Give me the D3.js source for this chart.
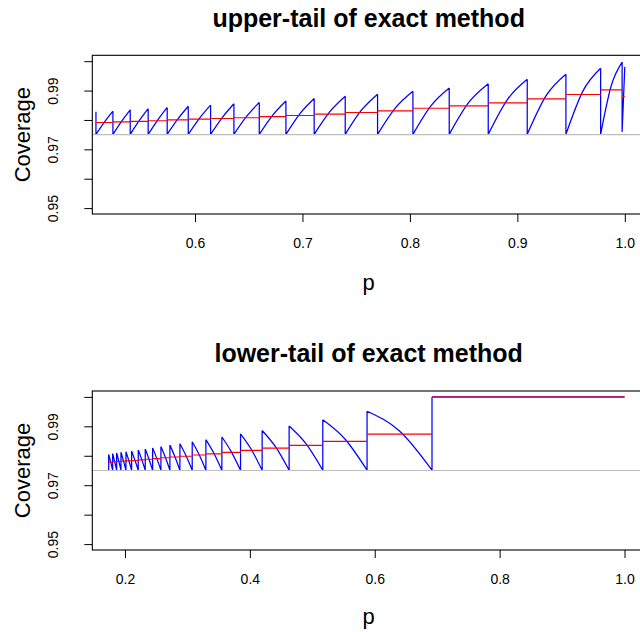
<!DOCTYPE html>
<html><head><meta charset="utf-8">
<script src="https://cdn.jsdelivr.net/npm/d3@7"></script>
<style>
body{margin:0;background:#fff}
svg{display:block}
text{font-family:"Liberation Sans",Arial,Helvetica,sans-serif;fill:#000}
</style>
</head><body>
<svg id="chart" width="640" height="632"></svg>
<script>
// ---------- DATA ----------
// Upper panel: segment boundaries (jump positions) in p
const upperJumps = [0.5078, 0.5236, 0.5397, 0.5564, 0.5741, 0.5937, 0.6145, 0.6362, 0.6598, 0.6846, 0.7109, 0.7398, 0.7699, 0.8028, 0.8366, 0.8729, 0.9092, 0.9452, 0.9775, 0.9975, 1.0];
const upperStartValue = 0.98276;
const upperLow  = [0.9751, 0.9751, 0.9751, 0.9751, 0.9751, 0.9751, 0.9751, 0.9751, 0.9751, 0.9751, 0.9751, 0.9751, 0.9751, 0.9751, 0.9751, 0.9751, 0.9751, 0.9751, 0.9751, 0.97595];
const upperMid  = [0.97928, 0.97953, 0.97974, 0.97995, 0.98027, 0.98057, 0.98082, 0.98119, 0.98157, 0.98218, 0.98274, 0.98331, 0.98404, 0.98490, 0.98597, 0.98710, 0.98851, 0.99006, 0.99181, 0.98700];
const upperPeak = [0.98299, 0.98345, 0.98385, 0.98425, 0.98467, 0.98505, 0.98550, 0.98598, 0.98645, 0.98730, 0.98805, 0.98878, 0.98975, 0.99090, 0.99235, 0.99385, 0.99558, 0.99760, 0.99968, 0.99806];
const upperMean = [0.97915, 0.97936, 0.97952, 0.97972, 0.98003, 0.98027, 0.98050, 0.98075, 0.98112, 0.98152, 0.98197, 0.98254, 0.98310, 0.98396, 0.98480, 0.98582, 0.98718, 0.98867, 0.99024, 0.98799];

// Lower panel
const lowerJumps = [0.1739, 0.1803, 0.1867, 0.1936, 0.2016, 0.2107, 0.2213, 0.2325, 0.2443, 0.2576, 0.2720, 0.2880, 0.3077, 0.3296, 0.3552, 0.3851, 0.4197, 0.4629, 0.5168, 0.5877, 0.6917];
const lowerTop  = [0.98047, 0.98075, 0.98098, 0.98120, 0.98140, 0.98162, 0.98193, 0.98227, 0.98268, 0.98315, 0.98362, 0.98412, 0.98475, 0.98548, 0.98638, 0.98745, 0.98860, 0.99010, 0.99220, 0.99512];
const lowerMid  = [0.97789, 0.97804, 0.97816, 0.97827, 0.97838, 0.97849, 0.97869, 0.97890, 0.97912, 0.97941, 0.97970, 0.98002, 0.98041, 0.98086, 0.98142, 0.98214, 0.98300, 0.98410, 0.98570, 0.98841];
const lowerLow  = 0.9751;
const lowerMean = [0.97775, 0.97793, 0.97806, 0.97818, 0.97828, 0.97838, 0.97860, 0.97880, 0.97905, 0.97932, 0.97958, 0.97985, 0.98024, 0.98063, 0.98116, 0.98182, 0.98261, 0.98353, 0.98488, 0.98736];
const lowerPlateau = {from: 0.6917, to: 1.0, value: 1.0};

const refLevel = 0.975;
const yTicks = [0.95, 0.96, 0.97, 0.98, 0.99, 1.00];
const yTickLabels = ["0.95", "", "0.97", "", "0.99", ""];
const upperXTicks = [0.6, 0.7, 0.8, 0.9, 1.0];
const upperXTickLabels = ["0.6", "0.7", "0.8", "0.9", "1.0"];
const lowerXTicks = [0.2, 0.4, 0.6, 0.8, 1.0];
const lowerXTickLabels = ["0.2", "0.4", "0.6", "0.8", "1.0"];
const titles = ["upper-tail of exact method", "lower-tail of exact method"];
const xLabel = "p";
const yLabel = "Coverage";

// ---------- LAYOUT ----------
const svg = d3.select("#chart");
const L = 92.3, R = 645;

function drawPanel(o) {
  const x = d3.scaleLinear().domain(o.xDomain).range([L, R]);
  const y = d3.scaleLinear().domain([0.948, 1.002]).range([o.bottom, o.top]);
  const g = svg.append("g");
  const clipId = "clip" + o.id;
  svg.append("clipPath").attr("id", clipId).append("rect")
    .attr("x", L).attr("y", o.top).attr("width", R - L).attr("height", o.bottom - o.top);
  const plot = g.append("g").attr("clip-path", `url(#${clipId})`);

  const curve = d3.line().x(d => x(d[0])).y(d => y(d[1])).curve(d3.curveMonotoneX);
  const straight = d3.line().x(d => x(d[0])).y(d => y(d[1]));

  // blue coverage curve
  let dStr = "";
  o.pieces.forEach(pc => { dStr += (pc.type === "c" ? curve(pc.pts) : straight(pc.pts)); });
  plot.append("path").attr("d", dStr).attr("fill", "none")
    .attr("stroke", "#0000ff").attr("stroke-width", 1.25).attr("stroke-linejoin", "round");

  // red step means
  o.reds.forEach(s => {
    plot.append("line")
      .attr("x1", x(s[0])).attr("x2", x(s[1]))
      .attr("y1", y(s[2])).attr("y2", y(s[2]))
      .attr("stroke", s[3] || "#ff0000").attr("stroke-width", s[3] ? 1.6 : 1.1);
  });

  // reference line
  plot.append("line").attr("x1", L).attr("x2", R)
    .attr("y1", y(refLevel)).attr("y2", y(refLevel))
    .attr("stroke", "#bebebe").attr("stroke-width", 1.2);

  // box
  g.append("rect").attr("x", L).attr("y", o.top).attr("width", R - L).attr("height", o.bottom - o.top)
    .attr("fill", "none").attr("stroke", "#000").attr("stroke-width", 1.1);

  // x axis
  const xa = g.append("g").attr("transform", `translate(0,${o.bottom})`)
    .call(d3.axisBottom(x).tickValues(o.xTicks).tickSize(8).tickSizeOuter(0)
      .tickFormat((d, i) => o.xTickLabels[i]));
  xa.select(".domain").remove();
  xa.selectAll("line").attr("stroke", "#000");
  xa.selectAll("text").attr("font-size", 14).attr("y", 29).attr("dy", "0.35em").attr("fill", "#000")
    .style("font-family", '"Liberation Sans",Arial,sans-serif');

  // y axis
  const ya = g.append("g").attr("transform", `translate(${L},0)`)
    .call(d3.axisLeft(y).tickValues(yTicks).tickSize(8).tickSizeOuter(0)
      .tickFormat((d, i) => yTickLabels[i]));
  ya.select(".domain").remove();
  ya.selectAll("line").attr("stroke", "#000");
  ya.selectAll("text").attr("font-size", 14).attr("x", 0).attr("y", 0).attr("dy", "0.35em")
    .attr("text-anchor", "middle").attr("transform", "translate(-39,0) rotate(-90)")
    .attr("fill", "#000").style("font-family", '"Liberation Sans",Arial,sans-serif');

  // labels
  const cx = (L + R) / 2;
  svg.append("text").attr("x", cx).attr("y", o.titleY).attr("dy", "0.35em")
    .attr("text-anchor", "middle").attr("font-size", 25).attr("font-weight", "bold").text(o.title);
  svg.append("text").attr("x", cx).attr("y", o.xLabY).attr("dy", "0.35em")
    .attr("text-anchor", "middle").attr("font-size", 22).text(xLabel);
  svg.append("text").attr("transform", `translate(22,${(o.top + o.bottom) / 2}) rotate(-90)`)
    .attr("dy", "0.35em").attr("text-anchor", "middle").attr("font-size", 22).text(yLabel);
}

// ---------- build upper pieces ----------
const upPieces = [{type: "s", pts: [[upperJumps[0], upperStartValue], [upperJumps[0], upperLow[0]]]}];
upperPeak.forEach((pk, i) => {
  const a = upperJumps[i], b = upperJumps[i + 1];
  upPieces.push({type: "c", pts: [[a, upperLow[i]], [(a + b) / 2, upperMid[i]], [b, pk]]});
  if (i < upperPeak.length - 1)
    upPieces.push({type: "s", pts: [[b, pk], [b, upperLow[i + 1]]]});
});
const upReds = upperMean.map((m, i) => [upperJumps[i], upperJumps[i + 1], m]);

// ---------- build lower pieces ----------
const loPieces = [{type: "s", pts: [[lowerJumps[0], lowerLow], [lowerJumps[0], lowerTop[0]]]}];
lowerTop.forEach((t, i) => {
  const a = lowerJumps[i], b = lowerJumps[i + 1];
  loPieces.push({type: "c", pts: [[a, t], [(a + b) / 2, lowerMid[i]], [b, lowerLow]]});
  const next = i < lowerTop.length - 1 ? lowerTop[i + 1] : lowerPlateau.value;
  loPieces.push({type: "s", pts: [[b, lowerLow], [b, next]]});
});
loPieces.push({type: "s", pts: [[lowerPlateau.from, lowerPlateau.value], [lowerPlateau.to, lowerPlateau.value]]});
const loReds = lowerMean.map((m, i) => [lowerJumps[i], lowerJumps[i + 1], m]);
loReds.push([lowerPlateau.from, lowerPlateau.to, lowerPlateau.value, "#a4207e"]);

drawPanel({id: 1, top: 55.3, bottom: 214, xDomain: [0.5044, 1.0188],
  xTicks: upperXTicks, xTickLabels: upperXTickLabels, title: titles[0],
  titleY: 18, xLabY: 282, pieces: upPieces, reds: upReds});
drawPanel({id: 2, top: 391, bottom: 550, xDomain: [0.1477, 1.0328],
  xTicks: lowerXTicks, xTickLabels: lowerXTickLabels, title: titles[1],
  titleY: 353, xLabY: 616, pieces: loPieces, reds: loReds});
</script>
</body></html>
